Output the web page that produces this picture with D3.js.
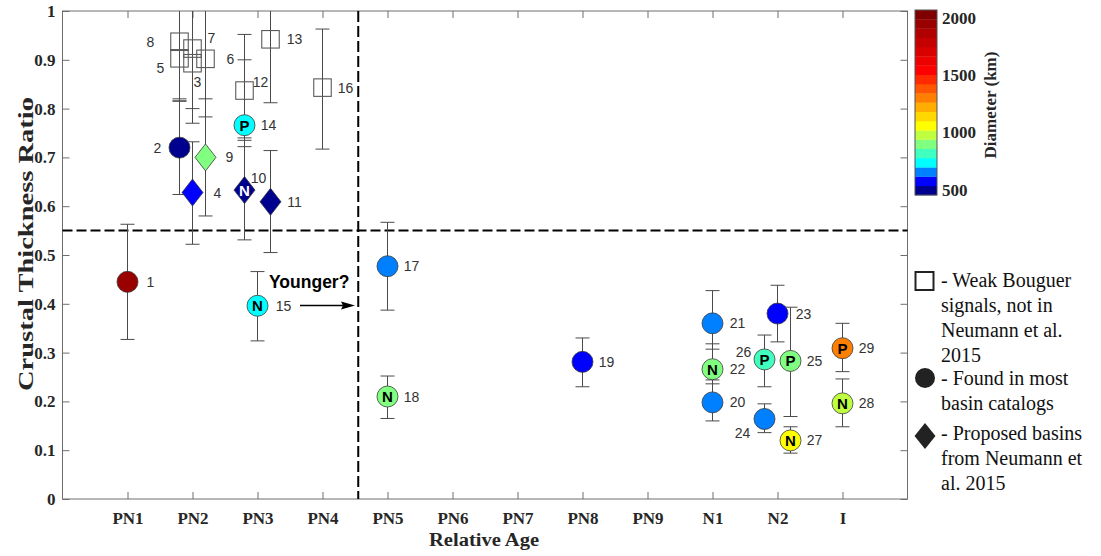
<!DOCTYPE html>
<html><head><meta charset="utf-8">
<script src="https://cdn.jsdelivr.net/npm/d3@7"></script>
<style>body{margin:0;background:#fff}</style>
</head><body>
<svg id="chart" width="1101" height="556"></svg>
<script>
// ---------- data ----------
const categories = ["PN1","PN2","PN3","PN4","PN5","PN6","PN7","PN8","PN9","N1","N2","I"];
const yTicks = [0,0.1,0.2,0.3,0.4,0.5,0.6,0.7,0.8,0.9,1];
const basinIds   = [1,2,3,4,5,6,7,8,9,10,11,12,13,14,15,16,17,18,19,20,21,22,23,24,25,26,27,28,29];
const basinAge   = [1.0,1.8,2.0,2.0,1.8,2.2,2.0,1.8,2.2,2.8,3.2,2.8,3.2,2.8,3.0,4.0,5.0,5.0,8.0,10.0,10.0,10.0,11.0,10.8,11.2,10.8,11.2,12.0,12.0];
const basinRatio = [0.445,0.72,0.893,0.628,0.903,0.902,0.923,0.937,0.70,0.633,0.609,0.837,0.942,0.766,0.396,0.843,0.477,0.21,0.281,0.198,0.36,0.266,0.38,0.164,0.283,0.286,0.12,0.196,0.309];
const basinLow   = [0.327,0.624,0.77,0.522,0.815,0.783,0.80,0.82,0.58,0.531,0.505,0.722,0.812,0.74,0.324,0.717,0.387,0.165,0.23,0.16,0.307,0.236,0.322,0.136,0.169,0.23,0.094,0.148,0.261];
const basinHigh  = [0.563,0.816,1.02,0.732,1.03,1.03,1.05,1.06,0.82,0.735,0.714,0.952,1.07,0.90,0.466,0.963,0.567,0.252,0.33,0.244,0.427,0.318,0.438,0.195,0.393,0.336,0.148,0.246,0.36];
const basinDiameter = [1940,510,null,590,null,null,null,null,900,490,520,null,null,740,730,null,660,890,600,650,680,910,580,640,920,820,1060,980,1300];
const basinType  = ["circle","circle","square","diamond","square","square","square","square","diamond","diamond","diamond","square","square","circle","circle","square","circle","circle","circle","circle","circle","circle","circle","circle","circle","circle","circle","circle","circle"];
const basinTag   = ["","","","","","","","","","N","","","","P","N","","","N","","","","N","","","P","P","N","N","P"];
const colorTicks = [500,1000,1500,2000];
const colorDomain = [455,2065];
const colorBands = ["#00008f","#0000ff","#0080ff","#00ffff","#40ffbf","#80ff80","#bfff40","#ffff00","#ffd800","#ffad00","#ff8000","#ff5500","#ff2a00","#ff0000","#ed0000","#d90000","#c40000","#b00000","#990000","#800000"];
const legendLabels = [["- Weak Bouguer","signals, not in","Neumann et al.","2015"],["- Found in most","basin catalogs"],["- Proposed basins","from Neumann et","al. 2015"]];
const legendShapes = ["square","circle","diamond"];
// label placement (pixels from marker centre)
const labelOffset = {1:[23,0],2:[-22,0],3:[5,19],4:[25,0],5:[-19,10],6:[25,0],7:[19,-11],8:[-29,0],9:[24,0],10:[14,-12],11:[24,0],12:[16,-9],13:[24,0],14:[24,0],15:[26,0],16:[23,0],17:[24,0],18:[24,0],19:[24,0],20:[25,0],21:[25,0],22:[25,0],23:[26,0],24:[-22,14],25:[24,0],26:[-21,-7],27:[24,0],28:[24,0],29:[24,0]};

const basins = basinIds.map((id,i)=>({id,age:basinAge[i],ratio:basinRatio[i],low:basinLow[i],high:basinHigh[i],diam:basinDiameter[i],type:basinType[i],tag:basinTag[i]}));

// ---------- layout ----------
const svg = d3.select("#chart");
const L = 62.5, R = 907.5, T = 11, B = 499;
const x = d3.scaleLinear().domain([0,13]).range([L,R]);
const y = d3.scaleLinear().domain([0,1]).range([B,T]);
const color = d3.scaleQuantize().domain(colorDomain).range(colorBands);
const serif = "'Liberation Serif','Times New Roman',serif";
const sans = "'Liberation Sans',Arial,Helvetica,sans-serif";
const axisCol = "#6e6e6e";

svg.append("defs").append("clipPath").attr("id","plotclip")
  .append("rect").attr("x",L).attr("y",T).attr("width",R-L).attr("height",B-T);

// axes
const catTicks = categories.map((c,i)=>i+1);
const gx = svg.append("g").attr("transform",`translate(0,${B})`)
  .call(d3.axisBottom(x).tickValues(catTicks).tickFormat((d,i)=>categories[i]).tickSize(-7).tickPadding(13));
const gxt = svg.append("g").attr("transform",`translate(0,${T})`)
  .call(d3.axisTop(x).tickValues(catTicks).tickFormat("").tickSize(-7));
const gy = svg.append("g").attr("transform",`translate(${L},0)`)
  .call(d3.axisLeft(y).tickValues(yTicks).tickFormat(d=> (d===0||d===1)? d3.format("d")(d) : d3.format(".1f")(d)).tickSize(-7).tickPadding(7));
const gyr = svg.append("g").attr("transform",`translate(${R},0)`)
  .call(d3.axisRight(y).tickValues(yTicks).tickFormat("").tickSize(-7));
[gx,gxt,gy,gyr].forEach(g=>{
  g.select(".domain").remove();
  g.selectAll(".tick line").attr("stroke",axisCol);
  g.selectAll("text").attr("font-family",serif).attr("font-weight","bold").attr("font-size",17).attr("fill","#262626");
});
svg.append("rect").attr("x",L).attr("y",T).attr("width",R-L).attr("height",B-T)
  .attr("fill","none").attr("stroke",axisCol).attr("stroke-width",1);

// axis titles
svg.append("text").attr("x",484).attr("y",546).attr("text-anchor","middle")
  .attr("font-family",serif).attr("font-weight","bold").attr("font-size",18).attr("fill","#262626")
  .attr("textLength",110).attr("lengthAdjust","spacingAndGlyphs").text("Relative Age");
svg.append("text").attr("transform","translate(33,244) rotate(-90)").attr("text-anchor","middle")
  .attr("font-family",serif).attr("font-weight","bold").attr("font-size",20).attr("fill","#262626")
  .attr("textLength",294).attr("lengthAdjust","spacingAndGlyphs").text("Crustal Thickness Ratio");

// dashed divider lines
svg.append("line").attr("x1",L).attr("x2",R).attr("y1",y(0.55)).attr("y2",y(0.55))
  .attr("stroke","#000").attr("stroke-width",2).attr("stroke-dasharray","10,4");
svg.append("line").attr("x1",x(4.55)).attr("x2",x(4.55)).attr("y1",T).attr("y2",B)
  .attr("stroke","#000").attr("stroke-width",2).attr("stroke-dasharray","11,4");

// error bars
const plot = svg.append("g").attr("clip-path","url(#plotclip)");
const eb = plot.selectAll("g.eb").data(basins).join("g").attr("class","eb")
  .attr("stroke","#4a4a4a").attr("stroke-width",1);
eb.append("line").attr("x1",d=>x(d.age)).attr("x2",d=>x(d.age)).attr("y1",d=>y(d.low)).attr("y2",d=>y(d.high));
eb.append("line").attr("x1",d=>x(d.age)-7).attr("x2",d=>x(d.age)+7).attr("y1",d=>y(d.low)).attr("y2",d=>y(d.low));
eb.append("line").attr("x1",d=>x(d.age)-7).attr("x2",d=>x(d.age)+7).attr("y1",d=>y(d.high)).attr("y2",d=>y(d.high));

// markers
const mk = svg.selectAll("g.mk").data(basins).join("g").attr("class","mk")
  .attr("transform",d=>`translate(${x(d.age)},${y(d.ratio)})`);
mk.filter(d=>d.type==="circle").append("circle").attr("r",10.5)
  .attr("fill",d=>color(d.diam)).attr("stroke","#3a3a3a").attr("stroke-width",0.8);
mk.filter(d=>d.type==="diamond").append("path").attr("d","M0,-13.5L10.5,0L0,13.5L-10.5,0Z")
  .attr("fill",d=>color(d.diam)).attr("stroke","#3a3a3a").attr("stroke-width",0.8);
mk.filter(d=>d.type==="square").append("rect").attr("x",-8.75).attr("y",-8.75).attr("width",17.5).attr("height",17.5)
  .attr("fill","none").attr("stroke","#5a5a5a").attr("stroke-width",1.1);
mk.filter(d=>d.tag!=="").append("text").attr("text-anchor","middle").attr("dy","0.36em")
  .attr("font-family",sans).attr("font-weight","bold").attr("font-size",15)
  .attr("fill",d=>d.type==="diamond"?"#fff":"#000").text(d=>d.tag);
mk.append("text").attr("x",d=>labelOffset[d.id][0]).attr("y",d=>labelOffset[d.id][1]).attr("dy","0.36em")
  .attr("text-anchor","middle").attr("font-family",sans).attr("font-size",14).attr("fill","#333").text(d=>d.id);

// "Younger?" annotation
svg.append("text").attr("x",269).attr("y",288).attr("font-family",sans).attr("font-weight","bold")
  .attr("font-size",17.5).attr("fill","#000").text("Younger?");
svg.append("line").attr("x1",300).attr("x2",343).attr("y1",305.5).attr("y2",305.5).attr("stroke","#000").attr("stroke-width",1.3);
svg.append("path").attr("d","M355,305.5L341,301.5L343,305.5L341,309.5Z").attr("fill","#000");

// colorbar
const cbX = 915, cbW = 22;
const yc = d3.scaleLinear().domain(colorDomain).range([195,10]);
const cb = svg.append("g");
cb.selectAll("rect.band").data(colorBands).join("rect").attr("class","band")
  .attr("x",cbX).attr("width",cbW)
  .attr("y",c=>yc(color.invertExtent(c)[1])).attr("height",c=>yc(color.invertExtent(c)[0])-yc(color.invertExtent(c)[1])+0.3)
  .attr("fill",c=>c);
cb.append("rect").attr("x",cbX).attr("y",10).attr("width",cbW).attr("height",185).attr("fill","none").attr("stroke","#555").attr("stroke-width",1);
cb.selectAll("text.ct").data(colorTicks).join("text").attr("class","ct")
  .attr("x",942).attr("y",d=>yc(d)).attr("dy","0.36em")
  .attr("font-family",serif).attr("font-weight","bold").attr("font-size",17).attr("fill","#262626").text(d=>d);
svg.append("text").attr("transform","translate(996,105) rotate(-90)").attr("text-anchor","middle")
  .attr("font-family",serif).attr("font-weight","bold").attr("font-size",17).attr("fill","#262626").text("Diameter (km)");

// legend
const legendY = [286.5, 385, 439.5];
const legendShapeY = [281, 378, 436];
const lineH = 25.2;
legendLabels.forEach((lines,k)=>{
  const g = svg.append("g");
  if (legendShapes[k]==="square") g.append("rect").attr("x",915.5).attr("y",legendShapeY[k]-9).attr("width",18).attr("height",18).attr("fill","none").attr("stroke","#222").attr("stroke-width",2);
  if (legendShapes[k]==="circle") g.append("circle").attr("cx",925).attr("cy",legendShapeY[k]).attr("r",10).attr("fill","#222");
  if (legendShapes[k]==="diamond") g.append("path").attr("transform",`translate(925,${legendShapeY[k]})`).attr("d","M0,-13L10.5,0L0,13L-10.5,0Z").attr("fill","#222");
  lines.forEach((t,j)=>{
    g.append("text").attr("x",941).attr("y",legendY[k]+j*lineH).attr("font-family",serif).attr("font-size",20).attr("fill","#111").text(t);
  });
});
</script>
</body></html>
